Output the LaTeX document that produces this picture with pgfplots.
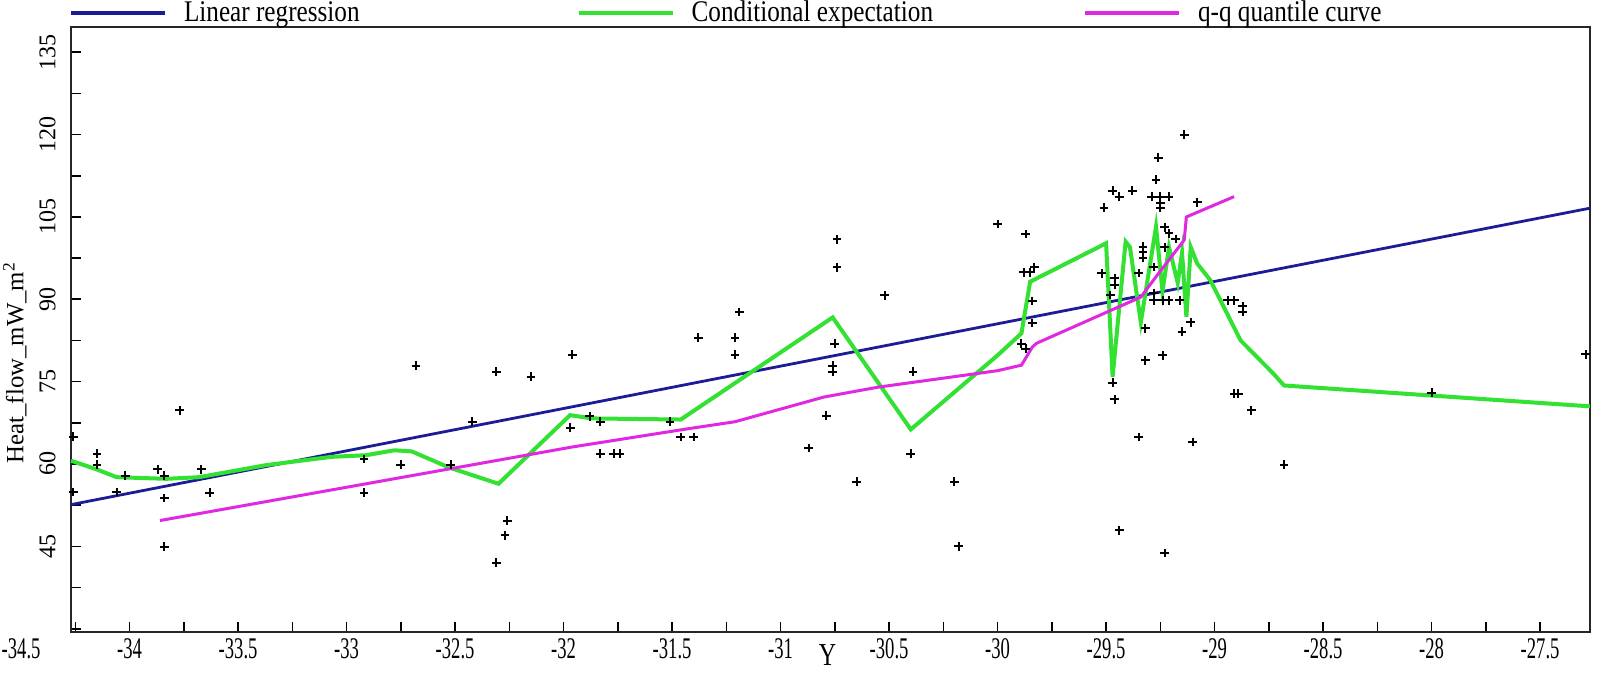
\documentclass[border=0pt]{standalone}
\usepackage{fontspec}
\setmainfont{Liberation Serif}
\newfontfamily\xtfont{Liberation Serif}[FakeStretch=0.62]
\newfontfamily\xlfont{Liberation Serif}[FakeStretch=0.75]
\newfontfamily\lgfont{Liberation Serif}[FakeStretch=0.84]
\usepackage{pgfplots}
\pgfplotsset{compat=1.18}
\definecolor{regblue}{RGB}{28,28,150}
\definecolor{condgreen}{RGB}{50,225,50}
\definecolor{qqpink}{RGB}{225,40,225}
\begin{document}
\begin{tikzpicture}
\begin{axis}[
  name=ax,
  scale only axis, width=759.5pt, height=302.5pt,
  xmin=-34.27, xmax=-27.27, ymin=29.4, ymax=139.6,
  clip=false,
  axis line style={black!85, line width=1pt},
  tick align=inside, tick pos=left,
  xtick={-34,-33.5,-33,-32.5,-32,-31.5,-31,-30.5,-30,-29.5,-29,-28.5,-28,-27.5},
  xticklabels={-34,-33.5,-33,-32.5,-32,-31.5,-31,-30.5,-30,-29.5,-29,-28.5,-28,-27.5},
  minor xtick={-34.25,-33.75,-33.25,-32.75,-32.25,-31.75,-31.25,-30.75,-30.25,-29.75,-29.25,-28.75,-28.25,-27.75},
  ytick={45,60,75,90,105,120,135},
  yticklabels={45,60,75,90,105,120,135},
  minor ytick={30,37.5,52.5,67.5,82.5,97.5,112.5,127.5},
  major tick length=5pt, minor tick length=5pt,
  tick style={black, line width=0.8pt},
  xticklabel style={font=\xtfont\fontsize{15}{15}\selectfont, inner sep=0pt, yshift=-3pt, anchor=north},
  yticklabel style={font=\fontsize{12}{12}\selectfont, inner sep=0pt, xshift=-7.5pt, rotate=90, anchor=south},
  xlabel={Y},
  xlabel style={font=\xlfont\fontsize{16}{16}\selectfont, at={(axis description cs:0.498,-0.038)}, anchor=center},
  ylabel={Heat\_flow\_mW\_m\textsuperscript{2}},
  ylabel style={font=\fontsize{12.4}{12.4}\selectfont, at={(axis description cs:-0.0369,0.445)}, anchor=center},
  legend columns=3,
  legend image code/.code={\draw[#1, line width=2pt] (0pt,0pt) -- (47pt,0pt);},
  legend style={draw=none, fill=none, inner sep=0pt, outer sep=0pt,
    at={(axis description cs:-0.0013,1)}, anchor=south west, yshift=1pt,
    font=\lgfont\fontsize{15}{15}\selectfont,
    nodes={inner sep=0pt},
    /tikz/column 1/.style={column sep=8.5pt},
    /tikz/column 2/.style={column sep=108.5pt},
    /tikz/column 3/.style={column sep=8.5pt},
    /tikz/column 4/.style={column sep=75pt},
    /tikz/column 5/.style={column sep=8.5pt}},
]
\addplot[regblue, line width=1.4pt] coordinates {(-34.27,52.6) (-27.27,106.6)};
\addlegendentry{Linear regression}
\addplot[condgreen, line width=2pt] coordinates {
(-34.27,60.6) (-34.15,59.0) (-34.06,57.6) (-33.83,57.3) (-33.68,57.6) (-33.37,59.8)
(-33.07,61.3) (-32.91,61.6) (-32.78,62.5) (-32.70,62.3) (-32.53,59.4) (-32.30,56.4)
(-31.97,68.9) (-31.87,68.3) (-31.46,68.1) (-30.76,86.7) (-30.40,66.3) (-30.0,79.8)
(-29.89,83.8) (-29.85,93.2) (-29.82,93.8) (-29.50,100.2) (-29.47,75.9) (-29.41,100.5)
(-29.39,99.5) (-29.34,85.8) (-29.27,103.2) (-29.24,91.5) (-29.21,99.5) (-29.17,93)
(-29.15,98.5) (-29.13,86.8) (-29.11,99.5) (-29.08,96.5) (-29.02,93.5) (-28.88,82.5)
(-28.73,76.5) (-28.68,74.3) (-27.27,70.5)};
\addlegendentry{Conditional expectation}
\addplot[qqpink, line width=1.5pt] coordinates {
(-33.86,49.7) (-32.30,60.7) (-31.96,63.1) (-31.43,66.4) (-31.21,67.7) (-30.80,72.2)
(-30.55,74.0) (-30.0,77.0) (-29.89,78.0) (-29.84,81.3) (-29.82,82.0) (-29.34,90.4)
(-29.27,94.1) (-29.14,100.8) (-29.13,105.0) (-28.91,108.7)};
\addlegendentry{q-q quantile curve}
\addplot[only marks, mark=+, mark size=2.2pt, mark options={line width=1pt, black}, forget plot] coordinates {
(-34.26,65.0) (-34.15,61.9) (-34.15,59.9) (-34.06,54.9) (-34.02,57.9) (-34.26,54.9)
(-33.87,59.0) (-33.84,57.9) (-33.84,53.8) (-33.84,44.9) (-33.77,69.8) (-33.67,59.0)
(-33.63,54.8) (-32.92,60.9) (-32.92,54.8) (-32.75,59.9) (-32.68,77.9) (-32.42,67.7)
(-32.52,59.9) (-32.31,76.8) (-32.31,42.0) (-32.26,49.7) (-32.27,47.0)
(-32.15,75.9) (-31.96,79.9) (-31.97,66.6) (-31.88,68.7) (-31.83,67.7) (-31.83,61.9)
(-31.77,61.9) (-31.74,61.9) (-31.51,67.7) (-31.46,64.9) (-31.40,64.9) (-31.38,83.0)
(-31.21,83.0) (-31.21,79.9) (-31.19,87.7) (-30.74,100.9) (-30.74,95.8) (-30.75,81.9)
(-30.76,77.9) (-30.76,76.8) (-30.79,68.8) (-30.87,62.9) (-30.65,56.8) (-30.52,90.7)
(-30.39,76.8) (-30.40,61.9) (-30.20,56.8) (-30.18,45.0) (-30.0,103.7)
(-29.14,120.0) (-29.26,115.8) (-29.27,111.8) (-29.47,109.8) (-29.38,109.8) (-29.44,108.7)
(-29.29,108.7) (-29.25,108.7) (-29.21,108.7) (-29.25,107.6) (-29.25,106.7) (-29.51,106.7)
(-29.08,107.7) (-29.87,101.9) (-29.83,95.9) (-29.88,94.9) (-29.85,94.9) (-29.84,89.7)
(-29.84,85.7) (-29.89,81.9) (-29.87,81.0) (-29.46,93.8) (-29.46,92.6) (-29.47,74.8)
(-29.46,71.8) (-29.35,64.9) (-29.33,99.6) (-29.33,98.6) (-29.33,97.6) (-29.32,84.7)
(-29.32,78.9) (-29.24,79.8) (-29.28,89.8) (-29.24,89.8) (-29.21,89.8) (-29.16,89.8)
(-29.15,84.1) (-29.11,85.8) (-29.10,64.0) (-29.23,103.1) (-29.21,102.0) (-29.18,101.0)
(-29.23,99.5) (-29.28,95.9) (-29.52,94.7) (-29.35,94.8) (-29.28,91.1) (-29.48,90.8)
(-28.94,89.8) (-28.91,89.8) (-28.87,88.7) (-28.87,87.7) (-28.91,72.8) (-28.89,72.8)
(-28.83,69.8) (-28.68,59.9) (-29.44,47.9) (-29.23,43.8) (-28.0,73.0) (-27.29,80.0)};
\node[font=\xtfont\fontsize{15}{15}\selectfont, anchor=north, inner sep=0pt, yshift=-3pt] at (axis cs:-34.5,29.4) {-34.5};
\end{axis}
\pgfresetboundingbox
\useasboundingbox ([shift={(-35.5pt,-20.5pt)}]ax.south west) rectangle ([shift={(5pt,13.5pt)}]ax.north east);
\end{tikzpicture}
\end{document}
